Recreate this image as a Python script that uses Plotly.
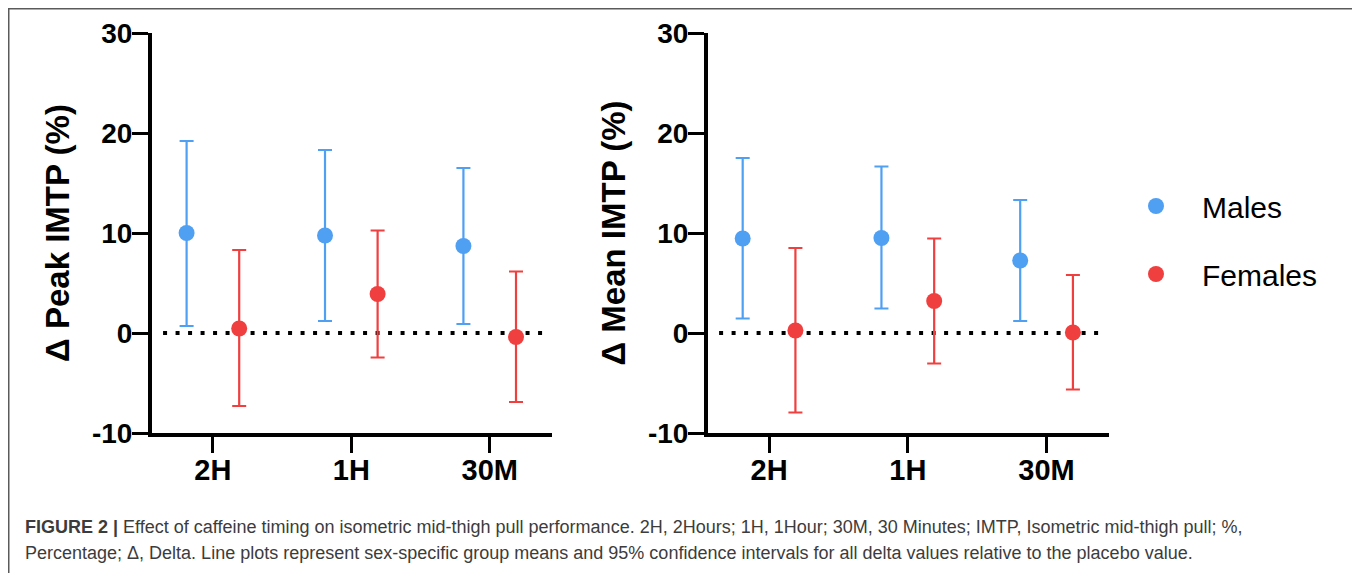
import plotly.graph_objects as go

# ---------------- data ----------------
categories = ["2H", "1H", "30M"]
series_names = ["Males", "Females"]

peak_males_mean = [10.0, 9.75, 8.7]
peak_males_upper = [19.2, 18.3, 16.5]
peak_males_lower = [0.7, 1.2, 0.9]
peak_females_mean = [0.45, 3.9, -0.4]
peak_females_upper = [8.3, 10.25, 6.15]
peak_females_lower = [-7.3, -2.45, -6.9]

mean_males_mean = [9.45, 9.5, 7.25]
mean_males_upper = [17.5, 16.65, 13.3]
mean_males_lower = [1.45, 2.45, 1.2]
mean_females_mean = [0.25, 3.2, 0.05]
mean_females_upper = [8.5, 9.45, 5.8]
mean_females_lower = [-7.95, -3.05, -5.65]

y_tick_values = [-10, 0, 10, 20, 30]
y_tick_labels = ["-10", "0", "10", "20", "30"]
reference_value = 0

y_titles = ["\u0394 Peak IMTP (%)", "\u0394 Mean IMTP (%)"]
caption_line1 = ("<b>FIGURE 2 |</b> Effect of caffeine timing on isometric mid-thigh pull performance. "
                 "2H, 2Hours; 1H, 1Hour; 30M, 30 Minutes; IMTP, Isometric mid-thigh pull; %,")
caption_line2 = ("Percentage; \u0394, Delta. Line plots represent sex-specific group means and 95% "
                 "confidence intervals for all delta values relative to the placebo value.")

# ---------------- style ----------------
W, H = 1360, 573
PAGE_OFFSET = 8  # default body margin of the html page
BLUE = "#4f9ff3"
RED = "#f03f3f"
FONT = "Liberation Sans, Arial, Helvetica, sans-serif"
OFFSET = 0.19
X_RANGE = [-0.44, 2.45]


def fx(p):
    return (p - PAGE_OFFSET) / W


def fy(p):
    return 1 - (p - PAGE_OFFSET) / H


panels = [
    dict(xd=[fx(152), fx(552)],
         males=(peak_males_mean, peak_males_upper, peak_males_lower),
         females=(peak_females_mean, peak_females_upper, peak_females_lower)),
    dict(xd=[fx(708), fx(1109)],
         males=(mean_males_mean, mean_males_upper, mean_males_lower),
         females=(mean_females_mean, mean_females_upper, mean_females_lower)),
]

fig = go.Figure()
xpos = list(range(len(categories)))

for i, p in enumerate(panels):
    ax = "" if i == 0 else str(i + 1)
    # dotted reference line
    fig.add_trace(go.Scatter(
        x=[X_RANGE[0] + 0.08, X_RANGE[1] - 0.02], y=[reference_value, reference_value],
        mode="lines", line=dict(color="black", width=4, dash="4px,8.5px"),
        showlegend=False, hoverinfo="skip", xaxis="x" + ax, yaxis="y" + ax))
    for name, key, color, sign in [(series_names[0], "males", BLUE, -1),
                                   (series_names[1], "females", RED, 1)]:
        m, up, lo = p[key]
        fig.add_trace(go.Scatter(
            x=[c + sign * OFFSET for c in xpos], y=m, mode="markers",
            name=name, legendgroup=name, showlegend=(i == 1),
            marker=dict(color=color, size=16),
            error_y=dict(type="data", symmetric=False,
                         array=[u - v for u, v in zip(up, m)],
                         arrayminus=[v - l for v, l in zip(m, lo)],
                         color=color, thickness=2.2, width=7),
            xaxis="x" + ax, yaxis="y" + ax))

axis_common = dict(showline=True, linewidth=4, linecolor="black", ticks="outside",
                   ticklen=16, tickwidth=3, tickcolor="black", showgrid=False,
                   zeroline=False, fixedrange=True, automargin=False)

for i, p in enumerate(panels):
    ax = "" if i == 0 else str(i + 1)
    fig.update_layout(**{
        "xaxis" + ax: dict(axis_common, domain=p["xd"], range=X_RANGE, anchor="y" + ax,
                           tickvals=xpos, ticktext=categories, ticklabelstandoff=-8,
                           tickfont=dict(family=FONT, size=29, color="black", weight="bold")),
        "yaxis" + ax: dict(axis_common, domain=[fy(433), fy(33)], range=[-10, 30],
                           anchor="x" + ax, tickvals=y_tick_values, ticktext=y_tick_labels,
                           ticklabelstandoff=-6,
                           tickfont=dict(family=FONT, size=28, color="black", weight="bold"),
                           title=dict(text="<b>" + y_titles[i] + "</b>", standoff=13,
                                      font=dict(family=FONT, size=33, color="black"))),
    })

fig.add_annotation(x=fx(23), y=fy(527), xref="paper", yref="paper", xanchor="left",
                   yanchor="middle", text=caption_line1, showarrow=False,
                   font=dict(family=FONT, size=18, color="#3c3c3c"))
fig.add_annotation(x=fx(23), y=fy(553), xref="paper", yref="paper", xanchor="left",
                   yanchor="middle", text=caption_line2, showarrow=False,
                   font=dict(family=FONT, size=18, color="#3c3c3c"))

fig.add_shape(type="rect", xref="paper", yref="paper", x0=fx(8.75), x1=fx(1355),
              y0=fy(600), y1=fy(8.75), line=dict(color="#5a5a5a", width=1.5))

fig.update_layout(
    width=W, height=H, margin=dict(l=0, r=0, t=0, b=0, pad=0, autoexpand=False),
    paper_bgcolor="white", plot_bgcolor="white",
    font=dict(family=FONT, color="black"),
    legend=dict(x=fx(1110), y=fy(180), xanchor="left", yanchor="top",
                font=dict(family=FONT, size=30, color="black"),
                itemwidth=82, tracegroupgap=26, traceorder="grouped",
                bgcolor="rgba(0,0,0,0)"),
)

fig.write_html("out.html")
